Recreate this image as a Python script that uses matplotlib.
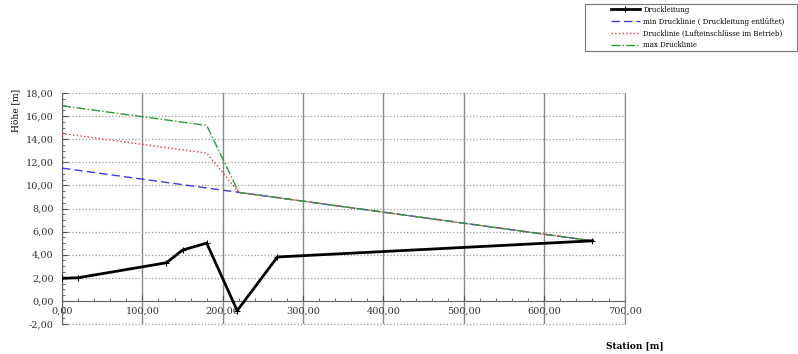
from matplotlib import pyplot as plt
from matplotlib import ticker
from matplotlib.patches import Rectangle

# Druckleitung (Rohrsohle)
station_leitung = [0, 20, 130, 150, 180, 218, 268, 660]
hoehe_leitung = [1.95, 2.0, 3.3, 4.4, 5.0, -0.85, 3.8, 5.2]

# Drucklinien
station_min = [0, 220, 660]
hoehe_min = [11.5, 9.4, 5.2]
station_luft = [0, 180, 220, 660]
hoehe_luft = [14.5, 12.8, 9.4, 5.2]
station_max = [0, 180, 220, 660]
hoehe_max = [16.9, 15.2, 9.4, 5.2]

labels = ['Druckleitung',
          'min Drucklinie ( Druckleitung entl\u00fcftet)',
          'Drucklinie (Lufteinschl\u00fcsse im Betrieb)',
          'max Drucklinie']

plt.rcParams['font.family'] = ['DejaVu Serif']

fig = plt.figure(figsize=(7.98, 3.54), dpi=100)
ax = fig.add_axes([0.0777, 0.085, 0.705, 0.652])

## lines
ax.plot(station_leitung, hoehe_leitung, '-', color='black', lw=2,
        marker='+', ms=4, mew=0.8, label=labels[0], zorder=5)
ax.plot(station_min, hoehe_min, '--', color='#3b3bef', lw=1,
        dashes=(6, 3), label=labels[1], zorder=4)
ax.plot(station_luft, hoehe_luft, ':', color='#ee3333', lw=1,
        label=labels[2], zorder=4)
ax.plot(station_max, hoehe_max, '-.', color='#2e9a3a', lw=1,
        label=labels[3], zorder=4)

## axes limits
ax.set_xlim(0, 700)
ax.set_ylim(-2, 18)

## ticks
ax.xaxis.set_major_locator(ticker.MultipleLocator(100))
ax.xaxis.set_minor_locator(ticker.MultipleLocator(20))
ax.yaxis.set_major_locator(ticker.MultipleLocator(2))
ax.yaxis.set_minor_locator(ticker.MultipleLocator(0.5))
fmt = ticker.FuncFormatter(lambda v, pos: '{:.2f}'.format(v).replace('.', ','))
ax.xaxis.set_major_formatter(fmt)
ax.yaxis.set_major_formatter(fmt)
ax.tick_params(axis='both', which='both', direction='in', labelsize=7,
               color='#555555', labelcolor='#333333')
ax.tick_params(axis='both', which='major', length=4)
ax.tick_params(axis='both', which='minor', length=2)
ax.tick_params(axis='x', pad=4)
ax.tick_params(axis='y', pad=6)

## spines: x-axis sits on y=0
ax.spines['bottom'].set_position(('data', 0))
ax.spines['bottom'].set_color('#666666')
ax.spines['left'].set_color('#666666')
ax.spines['right'].set_color('#888888')
ax.spines['top'].set_visible(False)

## grid
ax.grid(axis='y', which='major', linestyle=':', color='#999999', lw=0.9)
ax.grid(axis='x', which='major', linestyle='-', color='#888888', lw=1)
ax.set_axisbelow(True)
ax.axhline(-2, linestyle=':', color='#999999', lw=0.9, zorder=0, clip_on=False)

## labels
ax.set_ylabel('H\u00f6he [m]', fontsize=6.5)
ax.yaxis.set_label_coords(-0.075, 0.925)
fig.text(0.796, 0.01, 'Station [m]', fontsize=6.5, fontweight='bold',
         ha='center', va='bottom')

## legend with a hand-drawn frame
fig.patches.append(Rectangle((585 / 798, 1 - 51 / 354), 212 / 798, 47 / 354,
                             transform=fig.transFigure, fill=False,
                             edgecolor='#777777', lw=0.8))
leg = fig.legend(loc='upper left', bbox_to_anchor=(608 / 798, 1 - 3 / 354),
                 fontsize=5, frameon=False, handlelength=4.2,
                 labelspacing=0.55, borderpad=0.4, borderaxespad=0,
                 handletextpad=0.5)

fig.savefig('out.png', dpi=100)
